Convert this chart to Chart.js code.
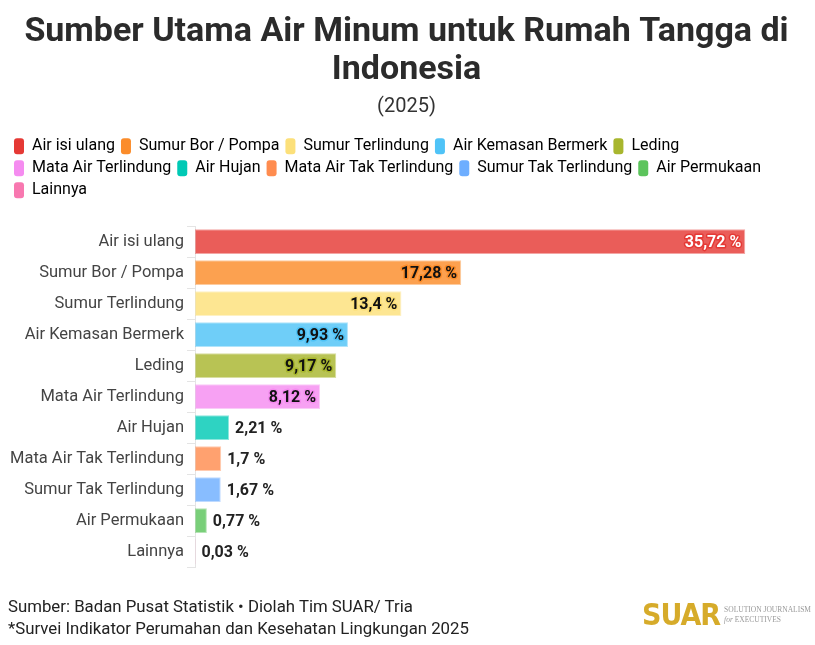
<!DOCTYPE html>
<html>
<head>
<meta charset="utf-8">
<script src="https://cdn.jsdelivr.net/npm/chart.js"></script>
<style>
  body { margin: 0; background: #fff; font-family: Roboto, "Noto Sans", sans-serif; }
  #wrap { position: relative; width: 815px; height: 645px; }
  #footer { position: absolute; left: 8px; top: 595px; font-size: 16.8px; color: #222; line-height: 22px; }
  #logo { position: absolute; left: 642px; top: 597px; display: flex; align-items: center; white-space: nowrap; }
  #logo b { font-family: "DejaVu Sans Condensed", Roboto, sans-serif; font-size: 30px; color: #d6ab2a; letter-spacing: -1px; }
  #logo span { font-family: "Liberation Serif", serif; font-size: 7.5px; color: #999; line-height: 10px; margin-left: 4px; }
</style>
</head>
<body>
<div id="wrap">
  <canvas id="myChart" width="815" height="645"></canvas>
  <div id="footer">Sumber: Badan Pusat Statistik • Diolah Tim SUAR/ Tria<br>*Survei Indikator Perumahan dan Kesehatan Lingkungan 2025</div>
  <div id="logo"><b>SUAR</b><span>SOLUTION JOURNALISM<br><i>for</i> EXECUTIVES</span></div>
</div>

<script>
    const categories = [
        'Air isi ulang', 'Sumur Bor / Pompa', 'Sumur Terlindung', 'Air Kemasan Bermerk',
        'Leding', 'Mata Air Terlindung', 'Air Hujan', 'Mata Air Tak Terlindung',
        'Sumur Tak Terlindung', 'Air Permukaan', 'Lainnya'
    ];
    const values = [35.72, 17.28, 13.4, 9.93, 9.17, 8.12, 2.21, 1.7, 1.67, 0.77, 0.03];
    const valueLabels = ['35,72 %', '17,28 %', '13,4 %', '9,93 %', '9,17 %', '8,12 %', '2,21 %', '1,7 %', '1,67 %', '0,77 %', '0,03 %'];
    const colors = [
        [229, 57, 53], [251, 140, 42], [252, 224, 122], [79, 195, 247],
        [168, 182, 46], [245, 140, 240], [0, 201, 181], [255, 140, 79],
        [110, 174, 255], [92, 196, 92], [248, 120, 176]
    ];

    const rgba = (c, a) => `rgba(${c[0]}, ${c[1]}, ${c[2]}, ${a})`;

    // extra room under the legend
    const legendGap = {
        id: 'legendGap',
        beforeLayout(chart) {
            const lg = chart.legend;
            if (lg && !lg._patched) {
                const fit = lg.fit;
                lg.fit = function () { fit.call(this); this.height += 18; };
                lg._patched = true;
            }
        }
    };

    // draws the value at the end of every bar
    const barLabels = {
        id: 'barLabels',
        afterDatasetsDraw(chart) {
            const ctx = chart.ctx;
            const meta = chart.getDatasetMeta(0);
            ctx.save();
            ctx.font = 'bold 16px Roboto';
            ctx.textBaseline = 'middle';
            ctx.lineJoin = 'round';
            meta.data.forEach((bar, i) => {
                const inside = values[i] >= 8;
                if (inside) {
                    ctx.textAlign = 'right';
                    ctx.strokeStyle = rgba(colors[i], 1);
                    ctx.lineWidth = 3;
                    ctx.strokeText(valueLabels[i], bar.x - 4, bar.y + 1);
                    ctx.fillStyle = i === 0 ? '#fff' : '#111';
                    ctx.fillText(valueLabels[i], bar.x - 4, bar.y + 1);
                } else {
                    ctx.textAlign = 'left';
                    ctx.fillStyle = '#222';
                    ctx.fillText(valueLabels[i], bar.x + 6, bar.y + 1);
                }
            });
            ctx.restore();
        }
    };

    const ctx = document.getElementById('myChart');
    myChart = new Chart(ctx, {
        type: 'bar',
        data: {
            labels: categories,
            datasets: [{
                data: values,
                backgroundColor: colors.map(c => rgba(c, 0.82)),
                borderColor: colors.map(c => rgba(c, 0.45)),
                borderWidth: 1,
                borderSkipped: false,
                barPercentage: 0.8,
                categoryPercentage: 1
            }]
        },
        options: {
            indexAxis: 'y',
            responsive: false,
            animation: false,
            layout: { padding: { left: 8, right: 10, top: 0, bottom: 78 } },
            plugins: {
                title: {
                    display: true,
                    text: ['Sumber Utama Air Minum untuk Rumah Tangga di', 'Indonesia'],
                    font: { family: 'Roboto', size: 34, weight: 'bold', lineHeight: 1.12 },
                    color: '#2b2b2b',
                    padding: { top: 13, bottom: 6 }
                },
                subtitle: {
                    display: true,
                    text: '(2025)',
                    font: { family: 'Roboto', size: 20, lineHeight: 1.2 },
                    color: '#333',
                    padding: { top: 0, bottom: 13 }
                },
                legend: {
                    align: 'start',
                    labels: {
                        boxWidth: 10,
                        boxHeight: 16,
                        padding: 6,
                        useBorderRadius: true,
                        borderRadius: 3,
                        color: '#333',
                        font: { family: 'Roboto', size: 16 },
                        generateLabels: () => categories.map((c, i) => ({
                            text: c,
                            fillStyle: rgba(colors[i], 1),
                            strokeStyle: 'rgba(0,0,0,0)',
                            lineWidth: 0,
                            borderRadius: 3,
                            index: i
                        }))
                    }
                },
                tooltip: { enabled: false }
            },
            scales: {
                x: {
                    display: false,
                    min: 0,
                    max: 39.6
                },
                y: {
                    afterFit(scale) { scale.width = 187; },
                    grid: {
                        drawOnChartArea: false,
                        color: '#e4e4e4',
                        tickLength: 8
                    },
                    border: { color: '#e4e4e4' },
                    ticks: {
                        color: '#444',
                        font: { family: 'Roboto', size: 16.5 },
                        padding: 3
                    }
                }
            }
        },
        plugins: [legendGap, barLabels]
    });
</script>
</body>
</html>
